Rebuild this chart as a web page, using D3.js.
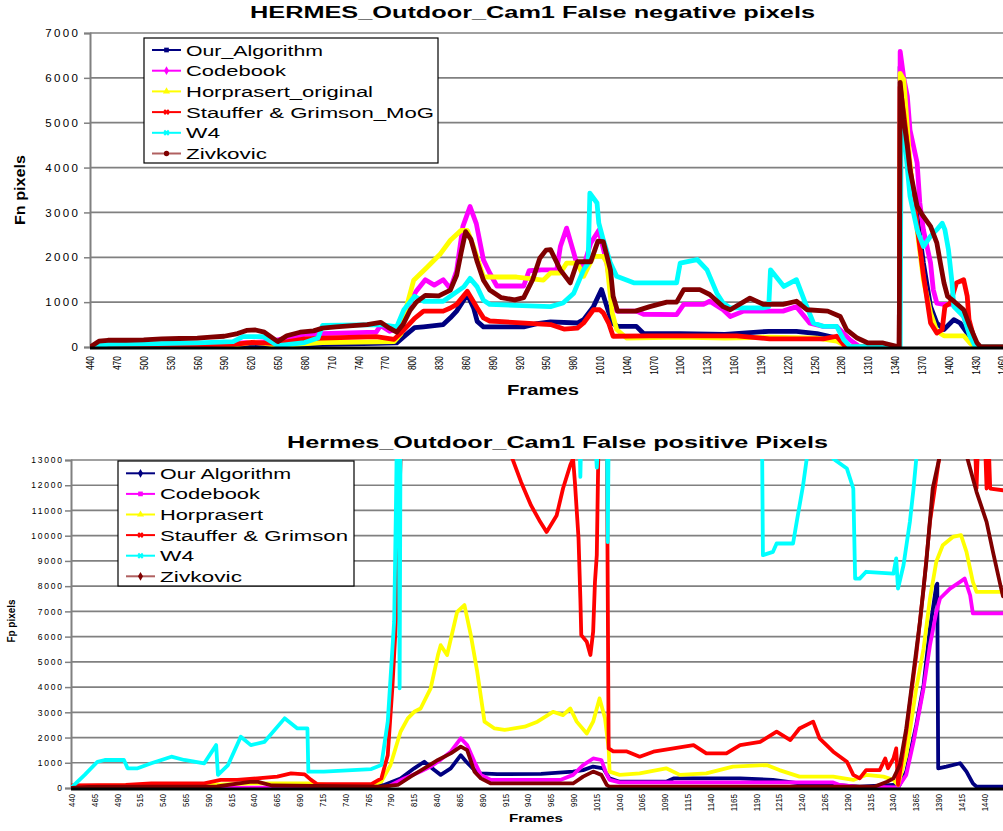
<!DOCTYPE html>
<html><head><meta charset="utf-8">
<script src="https://cdn.jsdelivr.net/npm/d3@7"></script>
<style>
body{margin:0;background:#fff;}
svg{display:block;font-family:Arial,"Liberation Sans",sans-serif;}
</style></head><body>
<svg id="chart" width="1003" height="831"></svg>
<script>
// ---------------- DATA: top chart (False negative pixels) ----------------
const fnSeriesNames = ["Our_Algorithm","Codebook","Horprasert_original","Stauffer & Grimson_MoG","W4","Zivkovic"];
const fnYTicks = [0,1000,2000,3000,4000,5000,6000,7000];
const fnXTicks = [440,470,500,530,560,590,620,650,680,710,740,770,800,830,860,890,920,950,980,1010,1040,1070,1100,1130,1160,1190,1220,1250,1280,1310,1340,1370,1400,1430,1460];

const fnOur = [[440,0],[480,20],[540,30],[600,40],[650,30],[700,60],[760,80],[783,90],[791,230],[803,430],[813,450],[835,500],[843,650],[850,800],[862,1170],[869,870],[873,570],[880,450],[925,450],[940,520],[955,560],[985,535],[992,610],[1003,900],[1012,1280],[1018,900],[1024,535],[1030,460],[1051,460],[1059,300],[1100,300],[1150,280],[1199,350],[1230,350],[1253,300],[1275,200],[1283,90],[1290,0],[1345,0],[1346,6250],[1350,4840],[1357,3730],[1365,2910],[1372,1870],[1380,900],[1387,535],[1395,390],[1406,610],[1413,535],[1421,310],[1428,50],[1432,0],[1461,0]];
const fnCodebook = [[440,0],[520,60],[600,80],[640,120],[660,200],[680,280],[700,300],[760,330],[765,480],[775,350],[785,420],[795,900],[805,1250],[815,1500],[825,1380],[835,1500],[843,1300],[850,1700],[857,2690],[865,3130],[872,2750],[880,1940],[887,1650],[895,1360],[925,1360],[931,1700],[945,1720],[962,1720],[966,2240],[973,2650],[981,2100],[985,1800],[992,1800],[1000,2320],[1009,2600],[1018,1870],[1025,980],[1029,800],[1051,800],[1059,730],[1096,720],[1104,950],[1126,950],[1133,1020],[1148,830],[1156,680],[1171,800],[1215,800],[1230,900],[1245,530],[1260,460],[1275,460],[1290,160],[1301,0],[1345,0],[1346,6590],[1350,6000],[1354,5590],[1357,4840],[1361,4470],[1365,4100],[1368,3210],[1372,2615],[1380,1870],[1383,1280],[1387,980],[1395,950],[1410,950],[1417,680],[1424,310],[1430,50],[1433,0],[1461,0]];
const fnHorprasert = [[440,0],[520,20],[600,40],[620,100],[635,80],[650,30],[700,100],[780,120],[788,300],[794,900],[802,1490],[817,1780],[832,2080],[843,2380],[855,2600],[862,2600],[869,2230],[880,1560],[917,1560],[947,1490],[955,1650],[966,1650],[973,1870],[985,1870],[992,1575],[1003,2020],[1014,2020],[1018,1870],[1024,760],[1029,390],[1040,200],[1100,220],[1150,200],[1200,220],[1253,200],[1275,130],[1283,50],[1290,0],[1345,0],[1346,6100],[1350,5960],[1357,4100],[1365,2615],[1372,1500],[1380,760],[1387,350],[1395,250],[1417,250],[1424,90],[1430,0],[1461,0]];
const fnStauffer = [[440,10],[520,40],[600,60],[620,100],[650,80],[680,180],[700,200],[760,230],[780,170],[791,380],[803,640],[813,800],[835,800],[843,870],[850,950],[862,1240],[873,870],[880,650],[887,580],[955,500],[970,400],[985,420],[992,535],[1003,830],[1010,830],[1014,760],[1020,535],[1025,240],[1066,250],[1163,250],[1200,180],[1260,180],[1275,240],[1283,50],[1290,0],[1345,0],[1346,5800],[1350,5200],[1357,4000],[1365,2700],[1372,1600],[1380,535],[1387,310],[1393,390],[1396,900],[1402,980],[1409,1430],[1417,1500],[1421,1130],[1423,610],[1428,240],[1432,0],[1461,0]];
const fnW4 = [[440,0],[460,60],[500,70],[560,90],[600,120],[611,230],[634,230],[650,30],[680,100],[695,200],[700,480],[765,500],[783,450],[791,830],[803,1130],[813,1020],[835,1020],[843,1130],[858,1340],[865,1530],[873,1340],[880,1040],[887,950],[955,900],[969,980],[981,1200],[992,1720],[997,1870],[999,3430],[1007,3210],[1009,2760],[1014,2390],[1022,1870],[1029,1575],[1048,1430],[1096,1430],[1100,1870],[1119,1950],[1130,1720],[1141,1200],[1148,980],[1156,870],[1193,870],[1199,900],[1201,1720],[1216,1350],[1230,1500],[1240,980],[1249,535],[1260,460],[1275,460],[1283,160],[1290,15],[1346,0],[1347,5000],[1350,4840],[1357,3360],[1365,2615],[1372,2240],[1380,2470],[1387,2615],[1393,2760],[1396,2615],[1400,2170],[1404,1430],[1406,900],[1417,680],[1424,240],[1430,15],[1432,0],[1461,0]];
const fnZivkovic = [[440,0],[450,130],[460,150],[480,150],[500,160],[520,180],[540,190],[560,200],[575,220],[590,240],[605,300],[615,370],[625,380],[635,330],[650,120],[660,250],[675,330],[690,360],[700,420],[715,450],[730,470],[750,500],[765,550],[775,420],[783,330],[790,500],[798,820],[805,1000],[815,1150],[830,1140],[843,1270],[850,1600],[855,2100],[860,2570],[866,2400],[873,1900],[880,1490],[887,1270],[900,1100],[915,1050],[925,1100],[935,1500],[943,1980],[950,2160],[955,2170],[966,1720],[977,1430],[985,1900],[1000,1900],[1008,2360],[1014,2350],[1022,1720],[1025,1130],[1030,800],[1050,800],[1066,900],[1085,1000],[1096,1000],[1104,1280],[1122,1280],[1133,1170],[1148,900],[1156,830],[1178,1090],[1193,950],[1215,950],[1230,1020],[1242,830],[1265,800],[1279,680],[1286,390],[1298,200],[1310,90],[1327,90],[1342,15],[1345,0],[1346,5900],[1350,5070],[1354,4470],[1357,3950],[1365,3135],[1372,2910],[1380,2690],[1387,2320],[1391,1870],[1395,1430],[1399,1130],[1406,1020],[1417,830],[1424,460],[1432,90],[1436,0],[1461,0]];

// ---------------- DATA: bottom chart (False positive pixels) ----------------
const fpSeriesNames = ["Our Algorithm","Codebook","Horprasert","Stauffer & Grimson","W4","Zivkovic"];
const fpYTicks = [0,1000,2000,3000,4000,5000,6000,7000,8000,9000,10000,11000,12000,13000];
const fpXTicks = [440,465,490,515,540,565,590,615,640,665,690,715,740,765,790,815,840,865,890,915,940,965,990,1015,1040,1065,1090,1115,1140,1165,1190,1215,1240,1265,1290,1315,1340,1365,1390,1415,1440];

const fpOur = [[440,0],[700,10],[783,120],[801,380],[816,780],[827,1040],[838,710],[845,520],[856,780],[867,1300],[873,1040],[882,710],[889,580],[907,550],[955,560],[990,650],[1001,710],[1012,850],[1023,780],[1030,380],[1041,250],[1092,250],[1100,380],[1173,380],[1209,320],[1238,180],[1275,120],[1304,50],[1341,120],[1346,0],[1355,650],[1366,2500],[1374,4080],[1381,6320],[1388,8040],[1389,8100],[1390,780],[1399,850],[1414,980],[1421,650],[1428,180],[1432,50],[1461,50]];
const fpCodebook = [[440,0],[700,20],[787,50],[805,380],[823,650],[834,850],[842,1040],[856,1440],[867,1970],[874,1700],[882,1040],[889,520],[900,320],[976,320],[990,520],[1001,910],[1012,1170],[1021,1110],[1027,520],[1030,320],[1041,220],[1275,220],[1282,120],[1300,50],[1346,20],[1355,520],[1363,1830],[1374,3950],[1381,5660],[1388,6980],[1392,7510],[1403,7900],[1414,8170],[1419,8300],[1425,7640],[1428,6920],[1461,6920]];
const fpHorprasert = [[440,0],[460,80],[520,100],[600,130],[640,180],[700,180],[720,120],[770,120],[780,250],[790,910],[801,2230],[809,2760],[816,3020],[823,3150],[834,3950],[842,5270],[845,5660],[852,5270],[863,6980],[871,7250],[878,6060],[885,4610],[893,2630],[904,2360],[915,2300],[937,2430],[951,2630],[968,3020],[979,2890],[987,3150],[994,2630],[1005,2160],[1012,2630],[1019,3550],[1025,2760],[1029,1570],[1030,650],[1041,520],[1063,580],[1092,780],[1107,520],[1136,580],[1165,850],[1202,910],[1216,710],[1238,450],[1275,450],[1297,320],[1311,520],[1330,450],[1341,320],[1346,120],[1355,1300],[1366,3950],[1374,5530],[1381,7510],[1388,8980],[1395,9620],[1406,9950],[1415,10020],[1421,9360],[1428,8170],[1432,7770],[1461,7770]];
const fpStauffer = [[440,100],[500,120],[528,180],[586,180],[604,320],[622,320],[644,380],[666,450],[681,580],[696,540],[703,320],[710,150],[769,150],[780,380],[787,1300],[792,3950],[796,6590],[798,8300],[800,11870],[802,14000],[920,14000],[922,13200],[933,12130],[944,11200],[954,10550],[961,10150],[972,10800],[979,11870],[987,12800],[990,13050],[992,12130],[996,9890],[998,7510],[999,6060],[1005,5800],[1009,5270],[1012,6190],[1014,8170],[1016,9230],[1018,14000],[1027,14000],[1029,1570],[1034,1450],[1049,1450],[1063,1240],[1078,1440],[1100,1570],[1122,1700],[1136,1370],[1158,1370],[1173,1700],[1195,1830],[1213,2230],[1228,1900],[1238,2360],[1253,2630],[1260,1970],[1275,1440],[1290,1040],[1297,520],[1304,380],[1311,710],[1326,710],[1332,1170],[1335,780],[1341,1170],[1344,1570],[1346,120],[1355,2230],[1366,5270],[1374,7900],[1381,10550],[1392,13300],[1394,14000],[1430,14000],[1432,11870],[1434,14000],[1441,14000],[1443,11870],[1445,14000],[1447,11870],[1461,11800]];
const fpW4 = [[440,0],[455,520],[469,1040],[477,1110],[498,1110],[502,780],[513,780],[528,980],[550,1240],[564,1110],[586,980],[599,1700],[601,520],[612,910],[626,2030],[637,1700],[652,1830],[674,2760],[688,2360],[699,2360],[700,650],[717,650],[769,750],[780,910],[787,2630],[794,6590],[796,11200],[797,14000],[799,14000],[800,3950],[801,14000],[997,14000],[998,12330],[999,14000],[1014,14000],[1016,12700],[1018,14000],[1027,14000],[1028,9750],[1029,14000],[1197,14000],[1198,9230],[1209,9360],[1213,9690],[1231,9690],[1235,10550],[1242,12000],[1246,13050],[1250,14000],[1270,14000],[1275,13050],[1290,12660],[1297,11870],[1299,8300],[1304,8300],[1311,8570],[1341,8500],[1344,9100],[1346,7900],[1352,8830],[1359,10550],[1363,11870],[1366,13050],[1368,14000],[1461,14000]];
const fpZivkovic = [[440,0],[460,40],[600,60],[636,240],[645,240],[660,100],[780,50],[798,120],[812,450],[827,780],[842,1110],[856,1370],[867,1640],[874,1500],[882,650],[889,380],[900,180],[990,180],[1001,450],[1012,650],[1021,520],[1027,120],[1030,50],[1320,50],[1334,250],[1341,380],[1348,910],[1355,2360],[1363,4610],[1370,6590],[1377,8960],[1384,11870],[1392,13200],[1395,14000],[1419,14000],[1421,13200],[1425,12660],[1432,11740],[1443,10550],[1450,9360],[1459,7900],[1461,7600]];

// ---------------- STYLE / LAYOUT ----------------
const colors = ["#000080","#FF00FF","#FFFF00","#FF0000","#00FFFF","#800000"];
const svg = d3.select("#chart");

function markerPath(kind, size){
  const map = {square:d3.symbolSquare, diamond:d3.symbolDiamond, triangle:d3.symbolTriangle, circle:d3.symbolCircle, star:d3.symbolCross};
  return d3.symbol().type(map[kind]).size(size)();
}

function drawPanel(cfg){
  const g = svg.append("g");
  const x = d3.scaleLinear().domain(cfg.xDomain).range([cfg.left, cfg.right]);
  const y = d3.scaleLinear().domain([0, cfg.yMax]).range([cfg.bottom, cfg.top]);

  // gridlines
  g.selectAll("line.grid").data(cfg.yTicks.filter(d=>d>0)).enter().append("line")
    .attr("x1", cfg.left).attr("x2", cfg.right)
    .attr("y1", d=>y(d)).attr("y2", d=>y(d))
    .attr("stroke", "#808080").attr("stroke-width", 1.7);

  // y axis
  const yAxis = d3.axisLeft(y).tickValues(cfg.yTicks).tickSize(6).tickFormat(d3.format("d"));
  const ya = g.append("g").attr("transform", `translate(${cfg.left},0)`).call(yAxis);
  ya.select(".domain").attr("stroke", "#808080").attr("stroke-width", 2);
  ya.selectAll(".tick line").attr("stroke", "#808080").attr("stroke-width", 1.5);
  ya.selectAll(".tick text").attr("font-size", cfg.yFont).attr("letter-spacing", cfg.yLS + "px")
    .attr("x", cfg.yLabelX - cfg.left + cfg.yLS).attr("fill", "#000").attr("font-family", "Arial, Liberation Sans, sans-serif");

  // series lines
  const clipId = "clip" + cfg.id;
  svg.append("defs").append("clipPath").attr("id", clipId).append("rect")
    .attr("x", cfg.left).attr("y", cfg.top - 1).attr("width", cfg.right - cfg.left).attr("height", cfg.bottom - cfg.top + 1);
  const line = d3.line().x(d=>x(d[0])).y(d=>y(d[1]));
  const lg = g.append("g").attr("clip-path", `url(#${clipId})`);
  cfg.series.forEach((s, i) => {
    lg.append("path").datum(s).attr("d", line).attr("fill", "none")
      .attr("stroke", colors[i]).attr("stroke-width", cfg.lineW)
      .attr("stroke-linejoin", "round").attr("stroke-linecap", "round");
  });

  // x axis line
  g.append("line").attr("x1", cfg.left).attr("x2", cfg.right).attr("y1", cfg.bottom + 1).attr("y2", cfg.bottom + 1)
    .attr("stroke", "#000").attr("stroke-width", 3);

  // x tick labels (rotated)
  const xAxis = d3.axisBottom(x).tickValues(cfg.xTicks).tickSize(0).tickFormat(d3.format("d"));
  const xa = g.append("g").attr("transform", `translate(0,${cfg.bottom})`).call(xAxis);
  xa.select(".domain").remove();
  xa.selectAll(".tick text")
    .attr("transform", "rotate(-90)")
    .attr("text-anchor", "end")
    .attr("x", -cfg.xLabelGap).attr("y", 0).attr("dy", "0.36em")
    .attr("font-size", cfg.xFont).attr("fill", "#000")
    .attr("font-family", "Arial, Liberation Sans, sans-serif")
    .attr("textLength", d => String(d).length * cfg.xCharW)
    .attr("lengthAdjust", "spacingAndGlyphs");

  // title
  svg.append("text").attr("x", cfg.titleX).attr("y", cfg.titleY).text(cfg.title)
    .attr("font-size", 16).attr("font-weight", "bold").attr("textLength", cfg.titleW).attr("lengthAdjust", "spacingAndGlyphs");
  // x title
  svg.append("text").attr("x", cfg.xtX).attr("y", cfg.xtY).text("Frames")
    .attr("font-size", cfg.xtFont).attr("font-weight", "bold").attr("textLength", cfg.xtW).attr("lengthAdjust", "spacingAndGlyphs");
  // y title
  svg.append("text").attr("transform", `translate(${cfg.ytX},${cfg.ytY}) rotate(-90)`).attr("text-anchor", "middle")
    .text(cfg.yTitle).attr("font-size", cfg.ytFont).attr("font-weight", "bold")
    .attr("textLength", cfg.ytW).attr("lengthAdjust", "spacingAndGlyphs");

  // legend
  const L = cfg.legend;
  const leg = svg.append("g");
  leg.append("rect").attr("x", L.x).attr("y", L.y).attr("width", L.w).attr("height", L.h)
    .attr("fill", "#fff").attr("stroke", "#000").attr("stroke-width", 1.2);
  cfg.names.forEach((n, i) => {
    const cy = L.row0 + i * L.step;
    leg.append("line").attr("x1", L.lx1).attr("x2", L.lx2).attr("y1", cy).attr("y2", cy)
      .attr("stroke", i === 5 ? "#b06060" : colors[i]).attr("stroke-width", 2);
    leg.append("path").attr("d", markerPath(L.markers[i], 22))
      .attr("transform", `translate(${(L.lx1 + L.lx2) / 2},${cy}) rotate(${L.markers[i] === "star" ? 45 : 0})`)
      .attr("fill", colors[i]);
    leg.append("text").attr("x", L.tx).attr("y", cy + 5.5).text(n)
      .attr("font-size", 15.5).attr("textLength", L.widths[i]).attr("lengthAdjust", "spacingAndGlyphs");
  });
}

drawPanel({
  id: "fn", left: 90, right: 1003, top: 33, bottom: 347, xDomain: [440, 1461], yMax: 7000,
  yTicks: fnYTicks, xTicks: fnXTicks, yFont: 11.5, yLS: 2.4, yLabelX: 78,
  series: [fnOur, fnCodebook, fnHorprasert, fnStauffer, fnW4, fnZivkovic], lineW: 4.8,
  xLabelGap: 9, xFont: 10.5, xCharW: 4.7,
  title: "HERMES_Outdoor_Cam1 False negative pixels", titleX: 250, titleY: 18, titleW: 565,
  xtX: 507, xtY: 395, xtFont: 15, xtW: 72,
  yTitle: "Fn pixels", ytX: 25, ytY: 190, ytFont: 15, ytW: 70,
  names: fnSeriesNames,
  legend: {x: 144, y: 38, w: 294, h: 125, row0: 50, step: 20.7, lx1: 152, lx2: 181, tx: 186,
    markers: ["square","diamond","triangle","star","star","circle"], widths: [137,100,187,248,34,81]}
});

drawPanel({
  id: "fp", left: 71, right: 1003, top: 460, bottom: 788, xDomain: [440, 1461], yMax: 13000,
  yTicks: fpYTicks, xTicks: fpXTicks, yFont: 8.5, yLS: 1.8, yLabelX: 62,
  series: [fpOur, fpCodebook, fpHorprasert, fpStauffer, fpW4, fpZivkovic], lineW: 3.8,
  xLabelGap: 6, xFont: 9.5, xCharW: 4.3,
  title: "Hermes_Outdoor_Cam1 False positive Pixels", titleX: 287, titleY: 448, titleW: 541,
  xtX: 509, xtY: 822, xtFont: 11, xtW: 54,
  yTitle: "Fp pixels", ytX: 15, ytY: 621, ytFont: 10.5, ytW: 43,
  names: fpSeriesNames,
  legend: {x: 118, y: 461, w: 236, h: 125, row0: 473.3, step: 20.6, lx1: 126, lx2: 155, tx: 160,
    markers: ["diamond","square","triangle","star","star","diamond"], widths: [131,100,103,188,34,82]}
});
</script></body></html>
